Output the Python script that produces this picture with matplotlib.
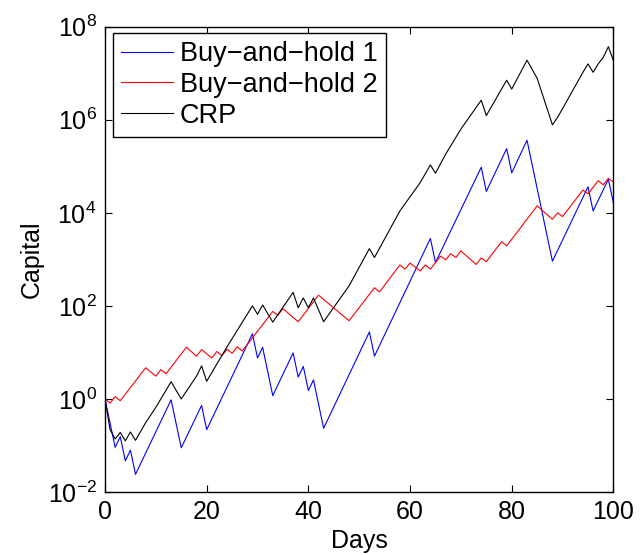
import numpy as np
import matplotlib
matplotlib.use("Agg")
import matplotlib.pyplot as plt

plt.rcParams['font.family'] = ['Liberation Sans', 'DejaVu Sans']
plt.rcParams['mathtext.fontset'] = 'custom'
plt.rcParams['mathtext.rm'] = 'Liberation Sans'

# turning points: day, log10(capital)
bh1_days = [0, 2, 3, 4, 5, 6, 13, 15, 19, 20, 29, 30, 31, 33, 37, 38, 39, 40, 41, 43,
            52, 53, 64, 65, 74, 75, 79, 80, 83, 88, 95, 96, 99, 100]
bh1_log = [0, -1.04, -0.81, -1.33, -1.10, -1.62, -0.02, -1.05, -0.14, -0.66, 1.40, 0.88,
           1.11, 0.07, 0.99, 0.47, 0.70, 0.18, 0.41, -0.63, 1.44, 0.92, 3.45, 2.93,
           4.98, 4.46, 5.38, 4.86, 5.56, 2.96, 4.56, 4.04, 4.72, 4.21]

bh2_days = [0, 1, 2, 3, 8, 10, 11, 12, 16, 18, 19, 21, 22, 23, 24, 25, 26, 27, 33, 34,
            35, 38, 42, 48, 53, 54, 58, 59, 60, 62, 63, 64, 66, 67, 68, 69, 70, 73,
            74, 75, 78, 79, 85, 88, 89, 90, 94, 95, 97, 98, 99, 100]
bh2_log = [0, -0.09, 0.05, -0.04, 0.67, 0.49, 0.63, 0.54, 1.11, 0.92, 1.06, 0.88, 1.02,
           0.93, 1.07, 0.98, 1.12, 1.03, 1.88, 1.80, 1.94, 1.66, 2.23, 1.68, 2.39, 2.30,
           2.88, 2.79, 2.92, 2.75, 2.88, 2.79, 3.07, 2.99, 3.12, 3.04, 3.18, 2.89, 3.03,
           2.95, 3.38, 3.29, 4.15, 3.86, 4.00, 3.92, 4.49, 4.41, 4.69, 4.60, 4.74, 4.66]

crp_days = [0, 1, 2, 3, 4, 5, 6, 8, 10, 13, 15, 18, 19, 20, 24, 29, 30, 31, 33, 37, 38,
            39, 40, 41, 43, 48, 52, 53, 58, 62, 64, 65, 67, 70, 74, 75, 79, 80, 83, 85,
            88, 89, 90, 94, 95, 96, 97, 98, 99, 100]
crp_log = [0, -0.66, -0.86, -0.72, -0.90, -0.71, -0.89, -0.51, -0.18, 0.37, 0.0, 0.49,
           0.71, 0.38, 1.12, 2.0, 1.82, 2.02, 1.65, 2.29, 1.96, 2.17, 1.96, 2.17, 1.66,
           2.43, 3.23, 3.04, 4.04, 4.65, 5.03, 4.85, 5.26, 5.80, 6.42, 6.09, 6.85, 6.66,
           7.28, 6.89, 5.89, 6.05, 6.24, 7.02, 7.20, 7.02, 7.20, 7.34, 7.57, 7.27]

labels = ['Buy\u2212and\u2212hold 1', 'Buy\u2212and\u2212hold 2', 'CRP']

fig = plt.figure(figsize=(6.41, 5.55), dpi=100)
ax = fig.add_axes([0.1638, 0.1135, 0.7932, 0.8384])

ax.semilogy(bh1_days, 10.0 ** np.array(bh1_log), color='#0000ff', lw=0.8, label=labels[0])
ax.semilogy(bh2_days, 10.0 ** np.array(bh2_log), color='#ff0000', lw=0.8, label=labels[1])
ax.semilogy(crp_days, 10.0 ** np.array(crp_log), color='black', lw=0.8, label=labels[2])

ax.set_xlim(0, 100)
ax.set_ylim(1e-2, 1e8)
ax.set_xticks([0, 20, 40, 60, 80, 100])
ax.set_yticks([1e-2, 1e0, 1e2, 1e4, 1e6, 1e8])
ax.minorticks_off()
ax.tick_params(direction='in', top=True, right=True, length=5, width=0.8,
               labelsize=18, pad=6)
for s in ax.spines.values():
    s.set_linewidth(1.0)

ax.set_xlabel('Days', fontsize=18, labelpad=3)
ax.set_ylabel('Capital', fontsize=18, labelpad=3)

leg = ax.legend(loc='upper left', bbox_to_anchor=(0.016, 0.986), borderaxespad=0,
                fontsize=19.5, handlelength=1.92, handletextpad=0.25, borderpad=0.3,
                labelspacing=0.17, fancybox=False, framealpha=1, edgecolor='black')
leg.get_frame().set_linewidth(1.0)

fig.savefig('out.png', dpi=100)
